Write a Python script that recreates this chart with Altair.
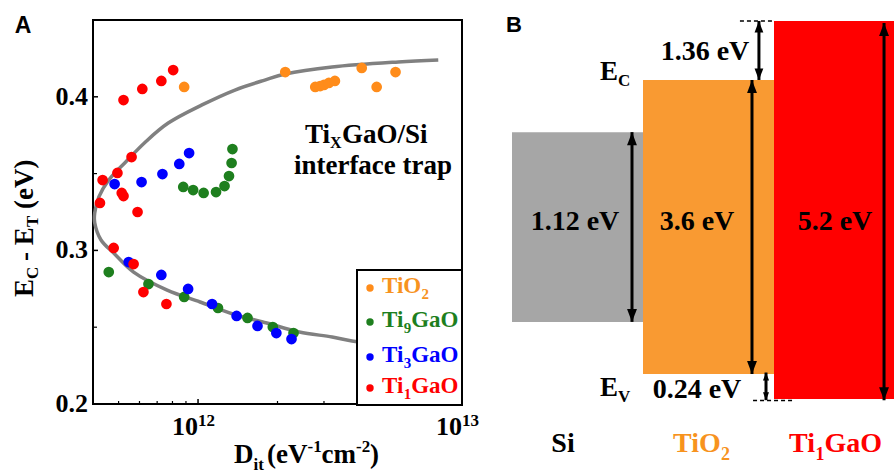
import altair as alt
import pandas as pd

# ---------------- Panel A data ----------------
series_names = ["TiO2", "Ti9GaO", "Ti3GaO", "Ti1GaO"]
series_colors = ["#FF8C1A", "#1E7F1E", "#0000FF", "#FF0000"]

tio2_D = [8.86e11, 2.14e12, 2.78e12, 2.90e12, 3.00e12, 3.13e12, 3.30e12, 4.17e12, 4.75e12, 5.60e12]
tio2_E = [0.4064, 0.4161, 0.4064, 0.4070, 0.4077, 0.4090, 0.4103, 0.4188, 0.4064, 0.4161]

ti9_D = [8.79e11, 9.58e11, 1.05e12, 1.17e12, 1.26e12, 1.31e12, 1.34e12, 1.35e12,
         4.59e11, 6.49e11, 8.86e11, 1.19e12, 1.54e12, 1.92e12, 2.30e12]
ti9_E = [0.3413, 0.3393, 0.3374, 0.3380, 0.3419, 0.3484, 0.3569, 0.3660,
         0.2859, 0.2781, 0.2697, 0.2625, 0.2560, 0.2501, 0.2462]

ti3_D = [4.83e11, 6.11e11, 7.33e11, 8.49e11, 9.25e11, 5.46e11, 7.26e11, 9.17e11,
         1.13e12, 1.40e12, 1.68e12, 1.98e12, 2.26e12]
ti3_E = [0.3432, 0.3445, 0.3497, 0.3563, 0.3634, 0.2924, 0.2840, 0.2749,
         0.2651, 0.2573, 0.2508, 0.2462, 0.2423]

ti1_D = [5.22e11, 6.15e11, 7.26e11, 8.05e11, 5.60e11, 4.95e11, 4.35e11, 5.14e11,
         5.22e11, 4.25e11, 5.90e11, 4.79e11, 5.70e11, 6.21e11, 7.59e11]
ti1_E = [0.3979, 0.4051, 0.4103, 0.4174, 0.3608, 0.3504, 0.3458, 0.3374,
         0.3354, 0.3309, 0.3250, 0.3016, 0.2911, 0.2729, 0.2651]

curve_D = [8.13e12, 5.74e12, 3.22e12, 2.14e12, 1.79e12, 1.38e12, 1.035e12, 7.71e11,
           6.32e11, 5.32e11, 4.59e11, 4.21e11, 4.06e11, 4.06e11, 4.29e11, 4.79e11,
           5.70e11, 7.64e11, 1.018e12, 1.355e12, 1.82e12, 2.42e12, 3.22e12, 3.83e12, 5.74e12]
curve_E = [0.4240, 0.4227, 0.4194, 0.4148, 0.4109, 0.4044, 0.3947, 0.3829,
           0.3706, 0.3576, 0.3458, 0.3348, 0.3243, 0.3180, 0.3068, 0.2983,
           0.2859, 0.2742, 0.2664, 0.2586, 0.2527, 0.2469, 0.2436, 0.2410, 0.2378]

x_major = [1e12, 1e13]
x_minor = [5e11, 6e11, 7e11, 8e11, 9e11, 2e12, 3e12, 4e12, 5e12, 6e12, 7e12, 8e12, 9e12]
y_major = [0.2, 0.3, 0.4]
y_minor = [0.25, 0.35]
y_labels = ["0.2", "0.3", "0.4"]
x_label_base = ["10", "10"]
x_label_exp = ["12", "13"]

# ---------------- Panel B data ----------------
materials = ["Si", "TiO2", "Ti1GaO"]
box_x0 = [0, 1, 2]
box_x1 = [1, 2, 3]
box_top = [70.6, 84.4, 100.0]      # schematic level units
box_bot = [20.4, 6.6, 0.0]
box_colors = ["#A6A6A6", "#F99A32", "#FF0000"]

arrow_x = [0.916, 1.832, 2.84, 1.885, 1.939]
arrow_top = [70.6, 84.4, 99.5, 100.0, 7.0]
arrow_bot = [20.4, 6.6, -0.3, 84.4, -0.3]
arrow_head = [676, 676, 676, 529, 256]

dash_x0 = [1.74, 1.84]
dash_x1 = [2.0, 2.14]
dash_y = [100.0, -0.4]

# ---------------- layout ----------------
OX, OY = 93, 20
W, H = 369, 384
SERIF = "Liberation Serif"
SANS = "Liberation Sans"
dummy = alt.Data(values=[{"a": 1}])


def txt(s, x, y, size, color="black", align="left", font=SERIF, angle=None, baseline="alphabetic"):
    kw = dict(text=s, font=font, fontSize=size, fontWeight="bold", color=color,
              align=align, baseline=baseline)
    if angle is not None:
        kw["angle"] = angle
    return alt.Chart(dummy).mark_text(**kw).encode(x=alt.value(x - OX), y=alt.value(y - OY))


# ---------------- Panel A ----------------
rows = []
for z, (name, Ds, Es) in enumerate(zip(series_names, [tio2_D, ti9_D, ti3_D, ti1_D],
                                      [tio2_E, ti9_E, ti3_E, ti1_E])):
    for d, e in zip(Ds, Es):
        rows.append({"series": name, "D": d, "E": e, "z": z})
pts = pd.DataFrame(rows)
curve = pd.DataFrame({"D": curve_D, "E": curve_E, "i": list(range(len(curve_D)))})

xs = alt.Scale(type="log", domain=[4e11, 1e13], nice=False)
ys = alt.Scale(domain=[0.2, 0.45], nice=False, zero=False)

curve_l = alt.Chart(curve).mark_line(color="#808080", strokeWidth=3.5, interpolate="catmull-rom").encode(
    x=alt.X("D:Q", scale=xs, axis=None),
    y=alt.Y("E:Q", scale=ys, axis=None),
    order="i:Q",
)
pts_l = alt.Chart(pts).mark_circle(size=115, opacity=1).encode(
    x=alt.X("D:Q", scale=xs, axis=None),
    y=alt.Y("E:Q", scale=ys, axis=None),
    color=alt.Color("series:N", scale=alt.Scale(domain=series_names, range=series_colors), legend=None),
    order=alt.Order("z:Q"),
)
xmaj_l = alt.Chart(pd.DataFrame({"v": x_major})).mark_rule(color="black", strokeWidth=1.5).encode(
    x=alt.X("v:Q", scale=xs, axis=None), y=alt.value(H), y2=alt.value(H - 5))
xmin_l = alt.Chart(pd.DataFrame({"v": x_minor})).mark_rule(color="black", strokeWidth=1.2).encode(
    x=alt.X("v:Q", scale=xs, axis=None), y=alt.value(H), y2=alt.value(H - 3))
ymaj_l = alt.Chart(pd.DataFrame({"v": y_major})).mark_rule(color="black", strokeWidth=1.5).encode(
    y=alt.Y("v:Q", scale=ys, axis=None), x=alt.value(0), x2=alt.value(5))
ymin_l = alt.Chart(pd.DataFrame({"v": y_minor})).mark_rule(color="black", strokeWidth=1.2).encode(
    y=alt.Y("v:Q", scale=ys, axis=None), x=alt.value(0), x2=alt.value(4))
ylab_l = alt.Chart(pd.DataFrame({"v": y_major, "t": y_labels})).mark_text(
    align="right", baseline="middle", font=SERIF, fontWeight="bold", fontSize=26, color="black").encode(
    y=alt.Y("v:Q", scale=ys, axis=None), x=alt.value(-5), text="t:N")
xlab_df = pd.DataFrame({"v": x_major, "b": x_label_base, "e": x_label_exp})
xlab_l = alt.Chart(xlab_df).mark_text(
    align="right", baseline="alphabetic", font=SERIF, fontWeight="bold", fontSize=26, color="black").encode(
    x=alt.X("v:Q", scale=xs, axis=None), y=alt.value(435 - OY), text="b:N")
xexp_l = alt.Chart(xlab_df).mark_text(
    align="left", baseline="alphabetic", font=SERIF, fontWeight="bold", fontSize=17, color="black").encode(
    x=alt.X("v:Q", scale=xs, axis=None), y=alt.value(426 - OY), text="e:N")

panelA = alt.layer(curve_l, pts_l, xmaj_l, xmin_l, ymaj_l, ymin_l, ylab_l, xlab_l, xexp_l)

# ---------------- Panel B ----------------
xb = alt.Scale(domain=[0, 3], range=[512 - OX, 905 - OX], nice=False, zero=False)
yb = alt.Scale(domain=[0, 100], range=[399 - OY, 21 - OY], nice=False, zero=False)

boxes = pd.DataFrame({"m": materials, "x0": box_x0, "x1": box_x1, "top": box_top,
                      "bot": box_bot, "col": box_colors})
box_l = alt.Chart(boxes).mark_rect().encode(
    x=alt.X("x0:Q", scale=xb, axis=None), x2="x1:Q",
    y=alt.Y("top:Q", scale=yb, axis=None), y2="bot:Q",
    color=alt.Color("col:N", scale=None),
)
arrows = pd.DataFrame({"x": arrow_x, "top": arrow_top, "bot": arrow_bot, "hs": arrow_head})
shaft_l = alt.Chart(arrows).mark_rule(color="black", strokeWidth=3).encode(
    x=alt.X("x:Q", scale=xb, axis=None),
    y=alt.Y("top:Q", scale=yb, axis=None), y2="bot:Q")
up_l = alt.Chart(arrows).mark_point(shape="M0,0L0.38,1L-0.38,1Z", filled=True, color="black",
                                    opacity=1, strokeWidth=0).encode(
    x=alt.X("x:Q", scale=xb, axis=None), y=alt.Y("top:Q", scale=yb, axis=None),
    size=alt.Size("hs:Q", scale=None))
down_l = alt.Chart(arrows).mark_point(shape="M0,0L0.38,-1L-0.38,-1Z", filled=True, color="black",
                                      opacity=1, strokeWidth=0).encode(
    x=alt.X("x:Q", scale=xb, axis=None), y=alt.Y("bot:Q", scale=yb, axis=None),
    size=alt.Size("hs:Q", scale=None))
dashes = pd.DataFrame({"x0": dash_x0, "x1": dash_x1, "y": dash_y})
dash_l = alt.Chart(dashes).mark_rule(color="black", strokeWidth=1.5, strokeDash=[4, 3]).encode(
    x=alt.X("x0:Q", scale=xb, axis=None), x2="x1:Q",
    y=alt.Y("y:Q", scale=yb, axis=None))

panelB = alt.layer(box_l, dash_l, shaft_l, up_l, down_l)

# ---------------- legend (panel A) ----------------
legend_box = alt.Chart(dummy).mark_rect(fill="white", stroke="black", strokeWidth=2).encode(
    x=alt.value(357 - OX), x2=alt.value(462 - OX), y=alt.value(270 - OY), y2=alt.value(405 - OY))
leg_rows_y = [288, 322, 357, 388]
leg_text_colors = ["#F7931E", "#1E7F1E", "#0000FF", "#FF0000"]
leg_pre = ["TiO", "Ti", "Ti", "Ti"]
leg_sub = ["2", "9", "3", "1"]
leg_post = ["", "GaO", "GaO", "GaO"]
legend_layers = [legend_box]
for yy, pc, tc, pre, sub, post in zip(leg_rows_y, series_colors, leg_text_colors, leg_pre, leg_sub, leg_post):
    legend_layers.append(alt.Chart(dummy).mark_circle(size=55, color=pc, opacity=1).encode(
        x=alt.value(370 - OX), y=alt.value(yy - OY)))
    pre_w = (39.6 if pre == "TiO" else 21.7)
    legend_layers.append(txt(pre, 382, yy + 5, 23, color=tc))
    legend_layers.append(txt(sub, 382 + pre_w, yy + 11, 15, color=tc))
    if post:
        legend_layers.append(txt(post, 382 + pre_w + 7.5, yy + 5, 23, color=tc))

# ---------------- annotations ----------------
ann = [
    txt("A", 23, 33, 23, font=SANS, align="center"),
    txt("B", 514, 32, 22, font=SANS, align="center"),
    # TixGaO/Si interface trap
    txt("Ti", 330, 143, 27, align="right"),
    txt("X", 330, 148, 16),
    txt("GaO/Si", 342, 143, 27),
    txt("interface trap", 373, 174, 27, align="center"),
    # y title
    txt("E", 33, 297, 27, angle=270),
    txt("C", 38, 279, 17, angle=270),
    txt("- E", 33, 261, 27, angle=270),
    txt("T", 38, 227, 17, angle=270),
    txt("(eV)", 33, 209, 27, angle=270),
    # x title
    txt("D", 234, 463, 27),
    txt("it", 253.5, 470, 17),
    txt("(eV", 267, 463, 27),
    txt("-1", 307.5, 452, 17),
    txt("cm", 321.5, 463, 27),
    txt("-2", 356, 452, 17),
    txt(")", 370, 463, 27),
    # panel B
    txt("1.36 eV", 705, 60, 28, align="center"),
    txt("1.12 eV", 575, 230, 28, align="center"),
    txt("3.6 eV", 697, 230, 28, align="center"),
    txt("5.2 eV", 835, 230, 28, align="center"),
    txt("E", 600, 80, 27),
    txt("C", 618, 86, 17),
    txt("E", 600, 396, 27),
    txt("V", 618, 402, 17),
    txt("0.24 eV", 697, 398, 28, align="center"),
    txt("Si", 563, 452, 28, align="center"),
    txt("TiO", 673, 452, 28, color="#F7931E"),
    txt("2", 721, 460, 18, color="#F7931E"),
    txt("Ti", 789, 452, 28, color="#FF0000"),
    txt("1", 815.5, 460, 18, color="#FF0000"),
    txt("GaO", 824.5, 452, 28, color="#FF0000"),
]

chart = alt.layer(panelA, panelB, *legend_layers, *ann).resolve_scale(
    x="independent", y="independent"
).properties(
    width=W, height=H,
    autosize=alt.AutoSizeParams(type="none"),
    padding={"left": OX, "top": OY, "right": 894 - OX - W, "bottom": 476 - OY - H},
    background="white",
).configure_view(stroke="black", strokeWidth=2)

chart.save("out.html", embed_options={"renderer": "svg", "actions": False})
